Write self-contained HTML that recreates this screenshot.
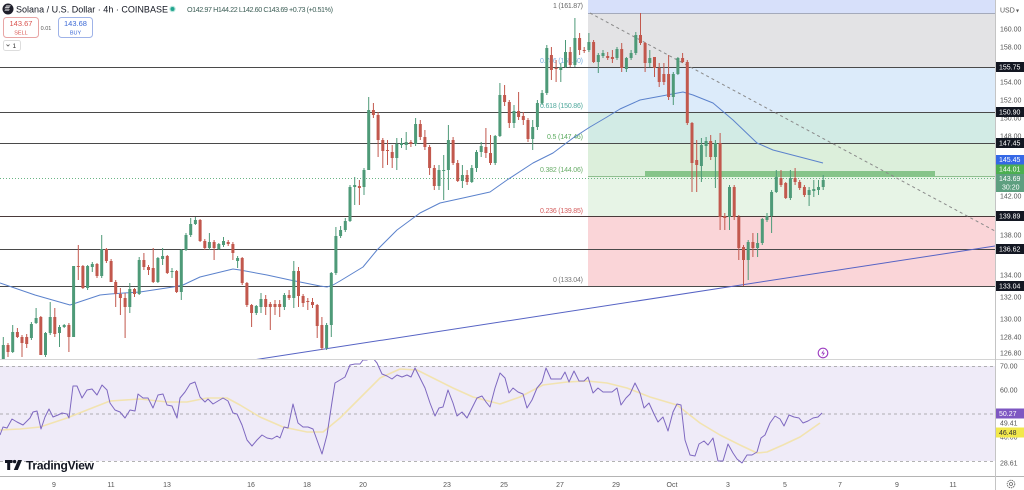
<!DOCTYPE html>
<html><head><meta charset="utf-8"><style>
html,body{margin:0;padding:0;background:#fff;}
body{width:1024px;height:490px;overflow:hidden;}
svg{display:block;font-family:"Liberation Sans",sans-serif;}
</style></head><body>
<svg width="1024" height="490" viewBox="0 0 1024 490" xmlns="http://www.w3.org/2000/svg">
<defs>
<clipPath id="cm"><rect x="0" y="0" width="995" height="359"/></clipPath>
<clipPath id="cr"><rect x="0" y="360" width="995" height="116"/></clipPath>
</defs>
<rect width="1024" height="490" fill="#fff"/>
<g clip-path="url(#cm)">
<!-- fib zones -->
<rect x="588" y="0" width="407" height="13" fill="#d7e0fa"/>
<rect x="588" y="13" width="407" height="54" fill="#e3e3e5"/>
<rect x="588" y="67" width="407" height="45" fill="#dcebfa"/>
<rect x="588" y="112" width="407" height="31" fill="#d2ebe5"/>
<rect x="588" y="143" width="407" height="33" fill="#dcefdb"/>
<rect x="588" y="176" width="407" height="40" fill="#e7f4e6"/>
<rect x="588" y="216" width="407" height="70" fill="#fad5d8"/>
<line x1="588" y1="13.5" x2="995" y2="13.5" stroke="#a4aabb" stroke-width="1"/>
<line x1="588" y1="176.5" x2="995" y2="176.5" stroke="#8fbf8f" stroke-width="1"/>
<g stroke="#4a4a4a" stroke-width="1">
<line x1="0" y1="67.5" x2="995" y2="67.5"/>
<line x1="0" y1="112.5" x2="995" y2="112.5"/>
<line x1="0" y1="143.5" x2="995" y2="143.5"/>
<line x1="0" y1="216.5" x2="995" y2="216.5" stroke="#4a3a3a"/>
<line x1="0" y1="249.5" x2="995" y2="249.5"/>
<line x1="0" y1="286.5" x2="995" y2="286.5"/>
</g>
<rect x="645" y="171" width="290" height="6" fill="#86c48a"/>
<line x1="0" y1="178.5" x2="995" y2="178.5" stroke="#6ab585" stroke-width="1" stroke-dasharray="1,2"/>
<!-- fib labels -->
<g font-size="7" text-anchor="end">
<text x="583" y="8" fill="#666" textLength="30">1 (161.87)</text>
<text x="583" y="63" fill="#7aaede" textLength="43">0.786 (155.60)</text>
<text x="583" y="108" fill="#4fa89c" textLength="43">0.618 (150.86)</text>
<text x="583" y="139" fill="#5aaa5e" textLength="36">0.5 (147.46)</text>
<text x="583" y="172" fill="#6aae6a" textLength="43">0.382 (144.06)</text>
<text x="583" y="213" fill="#d45c5c" textLength="43">0.236 (139.85)</text>
<text x="583" y="282" fill="#777" textLength="30">0 (133.04)</text>
</g>
<!-- MA -->
<polyline fill="none" stroke="#5b82cc" stroke-width="1" stroke-linejoin="round" points="0,283 35,295 70,305 100,295 110,294 140,292 173,287 183,285 200,277 233,269 240,270 267,275 290,280 320,286 327,287 333,285 340,281 363,267 377,250 397,230 420,213 440,203 463,198 490,192 507,180 533,163 553,153 573,138 590,127 607,117 620,109 640,100 667,95 683,92 693,95 713,103 733,120 757,143 773,150 800,157 823,163"/>
<!-- trendlines -->
<line x1="253" y1="360" x2="995" y2="246" stroke="#5663c4" stroke-width="1"/>
<line x1="590" y1="13" x2="995" y2="231" stroke="#8a8a8a" stroke-width="1" stroke-dasharray="3,3"/>
<!-- candles green -->
<path fill="none" stroke="#4e9a78" stroke-width="1" d="M3.3 337V360M12.7 325V353M31.4 322V340M36.1 308V324M45.5 332V357M50.2 302V335M59.5 325V347M64.2 324V328M73.6 266V337M87.6 265V290M92.3 262V272M101.7 235V278M129.8 283V313M139.2 257V295M157.9 257V283M162.6 248V265M172 268V278M181.3 249V300M186 233V251M190.7 218V237M195.4 217V225M209.4 233V250M218.8 243V250M223.5 237V247M237.6 256V268M256.3 305V315M261 293V313M284.4 293V310M293.8 261V308M326.6 323V350M331.3 272V337M335.9 227V275M340.6 226V238M345.3 218V232M350 185V222M354.7 177V205M364 168V195M368.7 97V170M396.8 138V170M401.5 138V148M406.2 132V150M415.6 118V146M439 165V190M443.7 155V200M448.4 125V190M462.4 165V188M471.8 165V183M476.5 150V172M481.2 142V157M495.2 135V165M499.9 83V137M514 105V128M532.7 120V150M537.4 100V130M542.1 90V105M546.8 45V95M560.8 63V82M565.5 40V68M574.9 18V67M588.9 33V52M598.3 53V73M603 50V58M617 47V60M626.4 57V72M631.1 50V60M635.8 32V55M649.8 50V67M673.3 72V105M677.9 57V75M701.4 138V182M706.1 137V157M715.4 140V188M729.5 185V230M748.2 240V280M757.6 233V257M762.3 218V245M767 213V222M771.6 190V233M776.3 170V193M790.4 170V200M809.1 187V206M813.8 180V197M818.5 180V195M823.2 175V190"/>
<path fill="#4e9a78" d="M1.8 345h3V360h-3zM11.2 332h3V352h-3zM29.9 324h3V338h-3zM34.6 318h3V323h-3zM44 333h3V355h-3zM48.7 317h3V333h-3zM58 327h3V333h-3zM62.7 325h3V327h-3zM72.1 266h3V337h-3zM86.1 266h3V288h-3zM90.8 264h3V267h-3zM100.2 249h3V276h-3zM128.3 289h3V307h-3zM137.7 260h3V294h-3zM156.4 258h3V282h-3zM161.1 256h3V259h-3zM170.5 271h3V272h-3zM179.8 250h3V292h-3zM184.5 235h3V250h-3zM189.2 224h3V235h-3zM193.9 220h3V224h-3zM207.9 242h3V248h-3zM217.3 244h3V249h-3zM222 241h3V245h-3zM236.1 258h3V261h-3zM254.8 306h3V313h-3zM259.5 299h3V307h-3zM282.9 295h3V307h-3zM292.3 271h3V298h-3zM325.1 325h3V348h-3zM329.8 273h3V325h-3zM334.4 236h3V273h-3zM339.1 230h3V236h-3zM343.8 221h3V230h-3zM348.5 187h3V221h-3zM353.2 185h3V187h-3zM362.5 170h3V187h-3zM367.2 110h3V170h-3zM395.3 144h3V158h-3zM400 143h3V145h-3zM404.7 142h3V145h-3zM414.1 124h3V144h-3zM437.5 170h3V186h-3zM442.2 170h3V171h-3zM446.9 140h3V170h-3zM460.9 175h3V181h-3zM470.3 168h3V182h-3zM475 152h3V168h-3zM479.7 146h3V152h-3zM493.7 136h3V163h-3zM498.4 95h3V136h-3zM512.5 111h3V123h-3zM531.2 127h3V139h-3zM535.9 103h3V127h-3zM540.6 93h3V103h-3zM545.3 48h3V93h-3zM559.3 67h3V70h-3zM564 52h3V67h-3zM573.4 38h3V65h-3zM587.4 42h3V50h-3zM596.8 55h3V62h-3zM601.5 53h3V56h-3zM615.5 49h3V58h-3zM624.9 58h3V69h-3zM629.6 53h3V58h-3zM634.3 35h3V53h-3zM648.3 58h3V63h-3zM671.8 74h3V97h-3zM676.4 58h3V74h-3zM699.9 145h3V166h-3zM704.6 141h3V146h-3zM713.9 143h3V157h-3zM728 187h3V217h-3zM746.7 242h3V260h-3zM756.1 243h3V248h-3zM760.8 219h3V243h-3zM765.5 216h3V220h-3zM770.1 192h3V216h-3zM774.8 177h3V192h-3zM788.9 178h3V198h-3zM807.6 190h3V195h-3zM812.3 189h3V191h-3zM817 187h3V190h-3zM821.7 180h3V187h-3z"/>
<!-- candles red -->
<path fill="none" stroke="#c2584d" stroke-width="1" d="M8 343V357M17.4 328V338M22 335V357M26.7 334V348M40.8 316V355M54.8 308V337M68.9 323V352M78.3 245V280M82.9 265V289M97 263V278M106.4 248V263M111.1 259V282M115.7 280V307M120.4 288V315M125.1 293V338M134.5 288V297M143.9 253V270M148.5 265V275M153.2 248V283M167.3 255V274M176.6 270V293M200.1 219V242M204.8 239V250M214.1 240V260M228.2 240V246M232.9 242V260M242.2 257V285M246.9 282V307M251.6 304V327M265.7 295V315M270.3 302V330M275 300V315M279.7 300V317M289.1 290V300M298.5 267V307M303.1 294V307M307.8 298V310M312.5 298V308M317.2 304V338M321.9 317V350M359.4 180V205M373.4 103V118M378.1 112V157M382.8 138V168M387.5 140V165M392.2 145V168M410.9 140V147M420.3 120V140M424.9 130V150M429.6 145V175M434.3 165V190M453.1 137V165M457.7 160V182M467.1 170V185M485.9 128V158M490.5 135V165M504.6 85V106M509.3 100V128M518.6 92V120M523.3 112V125M528 118V142M551.4 47V80M556.1 60V82M570.2 47V67M579.6 33V55M584.2 47V53M593.6 40V63M607.7 52V60M612.4 50V63M621.7 43V72M640.5 13V45M645.1 42V72M654.5 57V77M659.2 63V87M663.9 63V85M668.6 55V100M682.6 53V63M687.3 60V125M692 122V192M696.7 140V192M710.7 135V160M720.1 133V230M724.8 213V230M734.2 185V220M738.8 215V260M743.5 245V286M752.9 233V257M781 170V187M785.7 182V199M795.1 168V185M799.7 180V190M804.4 185V197"/>
<path fill="#c2584d" d="M6.5 345h3V352h-3zM15.9 332h3V337h-3zM20.5 337h3V343h-3zM25.2 337h3V344h-3zM39.3 317h3V355h-3zM53.3 317h3V334h-3zM67.4 325h3V337h-3zM76.8 266h3V267h-3zM81.4 266h3V288h-3zM95.5 264h3V276h-3zM104.9 249h3V261h-3zM109.6 261h3V282h-3zM114.2 282h3V294h-3zM118.9 294h3V298h-3zM123.6 298h3V307h-3zM133 289h3V294h-3zM142.4 260h3V267h-3zM147 267h3V270h-3zM151.7 268h3V282h-3zM165.8 256h3V273h-3zM175.1 271h3V292h-3zM198.6 220h3V241h-3zM203.3 241h3V248h-3zM212.6 242h3V248h-3zM226.7 242h3V244h-3zM231.4 244h3V253h-3zM240.7 258h3V283h-3zM245.4 283h3V305h-3zM250.1 305h3V313h-3zM264.2 299h3V307h-3zM268.8 304h3V307h-3zM273.5 304h3V307h-3zM278.2 304h3V307h-3zM287.6 295h3V298h-3zM297 271h3V296h-3zM301.6 296h3V303h-3zM306.3 301h3V302h-3zM311 302h3V305h-3zM315.7 305h3V326h-3zM320.4 325h3V348h-3zM357.9 186h3V188h-3zM371.9 110h3V115h-3zM376.6 115h3V140h-3zM381.3 140h3V151h-3zM386 150h3V151h-3zM390.7 152h3V158h-3zM409.4 142h3V144h-3zM418.8 124h3V137h-3zM423.4 137h3V147h-3zM428.1 147h3V168h-3zM432.8 168h3V186h-3zM451.6 140h3V163h-3zM456.2 163h3V181h-3zM465.6 175h3V182h-3zM484.4 147h3V153h-3zM489 153h3V163h-3zM503.1 95h3V102h-3zM507.8 102h3V123h-3zM517.1 111h3V117h-3zM521.8 116h3V120h-3zM526.5 120h3V139h-3zM549.9 55h3V70h-3zM554.6 68h3V69h-3zM568.7 52h3V65h-3zM578.1 38h3V50h-3zM582.7 50h3V51h-3zM592.1 42h3V62h-3zM606.2 56h3V58h-3zM610.9 57h3V59h-3zM620.2 49h3V68h-3zM639 35h3V43h-3zM643.6 43h3V63h-3zM653 57h3V68h-3zM657.7 68h3V82h-3zM662.4 74h3V82h-3zM667.1 74h3V97h-3zM681.1 58h3V62h-3zM685.8 62h3V123h-3zM690.5 123h3V163h-3zM695.2 160h3V165h-3zM709.2 141h3V157h-3zM718.6 143h3V217h-3zM723.3 216h3V218h-3zM732.7 187h3V217h-3zM737.3 217h3V248h-3zM742 247h3V260h-3zM751.4 242h3V248h-3zM779.5 178h3V185h-3zM784.2 183h3V198h-3zM793.6 178h3V182h-3zM798.2 182h3V188h-3zM802.9 187h3V195h-3z"/>
<!-- purple icon -->
<circle cx="823" cy="353" r="4.8" fill="#fff" stroke="#9c3cc0" stroke-width="1.1"/>
<path d="M824 349.5l-2.8 4h2l-1 3.2 2.8-4h-2z" fill="#9c3cc0"/>
</g>
<!-- header -->
<circle cx="8" cy="9" r="5.5" fill="#1f1f2b"/>
<path d="M5.3 7.2h4.6l-1 1h-4.6zM5.3 9.5h4.6l-1 1h-4.6zM6.3 5.5h4.6l-1 1h-4.6z" fill="#fff"/>
<text x="16" y="12.5" font-size="9" fill="#131722" textLength="152">Solana / U.S. Dollar · 4h · COINBASE</text>
<circle cx="172.5" cy="9" r="3.2" fill="#b9e6dc"/>
<circle cx="172.5" cy="9" r="2" fill="#22a58f"/>
<text x="187" y="12" font-size="7.2" fill="#3d5f57" textLength="146">O142.97 H144.22 L142.60 C143.69 +0.73 (+0.51%)</text>
<rect x="3.5" y="17.5" width="35" height="20" rx="3" fill="#fff" stroke="#e8a5a5"/>
<text x="21" y="26" font-size="7.5" fill="#d9534f" text-anchor="middle">143.67</text>
<text x="21" y="34.5" font-size="5.5" fill="#d9534f" text-anchor="middle">SELL</text>
<text x="46" y="30" font-size="5.5" fill="#555" text-anchor="middle">0.01</text>
<rect x="58.5" y="17.5" width="34" height="20" rx="3" fill="#fff" stroke="#9fb3e8"/>
<text x="75.5" y="26" font-size="7.5" fill="#3d6ad6" text-anchor="middle">143.68</text>
<text x="75.5" y="34.5" font-size="5.5" fill="#3d6ad6" text-anchor="middle">BUY</text>
<rect x="3.5" y="40.5" width="17" height="10" rx="2" fill="#fff" stroke="#ddd"/>
<path d="M6.5 44.5l1.5 1.5 1.5-1.5" fill="none" stroke="#555" stroke-width="0.8"/>
<text x="12.5" y="48" font-size="6.5" fill="#333">1</text>
<!-- RSI pane -->
<line x1="0" y1="359.5" x2="1024" y2="359.5" stroke="#d4d4d4"/>
<rect x="0" y="366" width="995" height="95" fill="#efebf8"/>
<g stroke="#9a9a9a" stroke-width="0.8" stroke-dasharray="3,3">
<line x1="0" y1="366.5" x2="995" y2="366.5"/>
<line x1="0" y1="414" x2="995" y2="414"/>
<line x1="0" y1="461.5" x2="995" y2="461.5"/>
</g>
<g clip-path="url(#cr)">
<polyline fill="none" stroke="#f2e3b0" stroke-width="1.6" stroke-linejoin="round" points="0,430 20,429 40,427 67,418 87,410 110,401 140,399 167,402 187,402 207,398 227,398 240,405 260,417 283,427 307,432 323,432 340,418 360,398 380,378 400,369 417,370 433,378 453,388 473,397 500,404 520,397 543,385 567,382 587,381 607,383 627,388 650,397 677,405 700,423 720,435 740,445 757,453 767,452 783,445 800,437 820,423"/>
<polyline fill="none" stroke="#7e68c0" stroke-width="1" stroke-linejoin="round" points="0,435 3,427 7,428 12,419 17,422 23,425 30,418 33,412 37,411 41,429 45,417 49,409 53,417 58,415 62,413 67,414 69,418 73,386 77,386 82,398 87,390 92,389 97,395 102,385 107,390 110,403 115,410 120,412 125,418 130,410 135,411 138,394 143,398 148,398 153,408 158,395 163,394 167,405 172,406 177,418 180,398 185,392 190,384 195,382 200,397 205,402 208,399 213,404 218,401 223,398 228,401 233,413 237,414 242,425 247,440 252,446 257,440 262,435 267,438 272,439 277,436 280,438 284,427 288,428 293,404 298,423 303,427 308,427 313,429 317,440 322,454 327,435 332,402 335,383 340,380 345,377 350,365 355,364 360,364 363,360 367,360 372,357 377,363 382,374 387,376 392,379 397,375 402,377 407,375 411,377 415,368 421,380 425,388 430,403 435,416 439,408 443,407 448,390 453,403 457,416 462,412 467,418 472,408 477,398 482,396 486,402 490,407 495,388 500,373 505,378 509,393 513,388 518,392 523,394 527,408 532,400 537,388 542,382 546,368 551,379 556,379 561,379 565,372 569,382 574,371 579,381 584,381 588,377 593,393 598,388 603,392 607,392 612,392 617,388 621,405 626,398 630,394 635,383 640,393 644,408 649,403 654,414 658,422 663,417 668,431 673,412 677,404 681,405 685,440 690,455 695,456 699,444 704,441 708,445 713,438 718,461 723,461 728,444 733,453 737,459 742,463 747,455 752,455 757,452 761,438 765,435 770,423 775,416 780,419 784,426 789,415 794,417 799,418 803,423 808,421 813,418 818,417 822,413"/>
</g>
<!-- TradingView logo -->
<path d="M5 460h7.5v3h-2.3v7h-3v-7H5z" fill="#131722"/>
<circle cx="14.6" cy="461.6" r="1.7" fill="#131722"/>
<path d="M18 460h4l-4.2 10h-4z" fill="#131722"/>
<text x="26" y="469.5" font-size="12" font-weight="bold" fill="#131722" textLength="68">TradingView</text>
<!-- bottom axis -->
<line x1="0" y1="476.5" x2="1024" y2="476.5" stroke="#b4b4b4"/>
<g font-size="7" fill="#555" text-anchor="middle">
<text x="54" y="487">9</text><text x="111" y="487">11</text><text x="167" y="487">13</text>
<text x="251" y="487">16</text><text x="307" y="487">18</text><text x="363" y="487">20</text>
<text x="447" y="487">23</text><text x="504" y="487">25</text><text x="560" y="487">27</text>
<text x="616" y="487">29</text><text x="672" y="487">Oct</text><text x="728" y="487">3</text>
<text x="785" y="487">5</text><text x="840" y="487">7</text><text x="897" y="487">9</text>
<text x="953" y="487">11</text>
</g>
<!-- price axis -->
<line x1="995.5" y1="0" x2="995.5" y2="490" stroke="#c4c4c4"/>
<g font-size="7" fill="#555">
<text x="1000" y="12.5">USD</text><text x="1016" y="12.5" font-size="6">▾</text>
<text x="1000" y="31.5">160.00</text>
<text x="1000" y="49.5">158.00</text>
<text x="1000" y="84.5">154.00</text>
<text x="1000" y="102.5">152.00</text>
<text x="1000" y="120.5">150.00</text>
<text x="1000" y="138.5">148.00</text>
<text x="1000" y="198.5">142.00</text>
<text x="1000" y="237.5">138.00</text>
<text x="1000" y="277.5">134.00</text>
<text x="1000" y="299.5">132.00</text>
<text x="1000" y="321.5">130.00</text>
<text x="1000" y="339.5">128.40</text>
<text x="1000" y="355.5">126.80</text>
<text x="1000" y="368.5">70.00</text>
<text x="1000" y="392.5">60.00</text>
<text x="1000" y="425.5">49.41</text>
<text x="1000" y="439.5">40.00</text>
<text x="1000" y="465.5">28.61</text>
</g>
<g fill="#131722">
<rect x="996" y="62" width="28" height="10"/>
<rect x="996" y="107" width="28" height="10"/>
<rect x="996" y="138" width="28" height="10"/>
<rect x="996" y="211" width="28" height="10"/>
<rect x="996" y="244" width="28" height="10"/>
<rect x="996" y="281" width="28" height="10"/>
</g>
<rect x="996" y="155" width="28" height="9.5" fill="#3568e6"/>
<rect x="996" y="164.5" width="28" height="9.5" fill="#4caf50"/>
<rect x="996" y="174" width="28" height="18" fill="#5e9f80"/>
<rect x="996" y="408.5" width="28" height="10" fill="#7e57c2"/>
<rect x="996" y="427.5" width="28" height="10" fill="#f2e84b"/>
<g font-size="7" fill="#fff">
<text x="999" y="69.5">155.75</text>
<text x="999" y="114.5">150.90</text>
<text x="999" y="145.5">147.45</text>
<text x="999" y="218.5">139.89</text>
<text x="999" y="251.5">136.62</text>
<text x="999" y="288.5">133.04</text>
<text x="999" y="162">145.45</text>
<text x="999" y="171.5">144.01</text>
<text x="999" y="181">143.69</text>
<text x="1002" y="189.5">30:20</text>
<text x="999" y="416">50.27</text>
<text x="999" y="435" fill="#333">46.48</text>
</g>
<circle cx="1011" cy="484" r="3.8" fill="none" stroke="#666" stroke-width="0.9" stroke-dasharray="1.5,0.8"/>
<circle cx="1011" cy="484" r="1.5" fill="none" stroke="#666" stroke-width="0.8"/>
</svg>
</body></html>
